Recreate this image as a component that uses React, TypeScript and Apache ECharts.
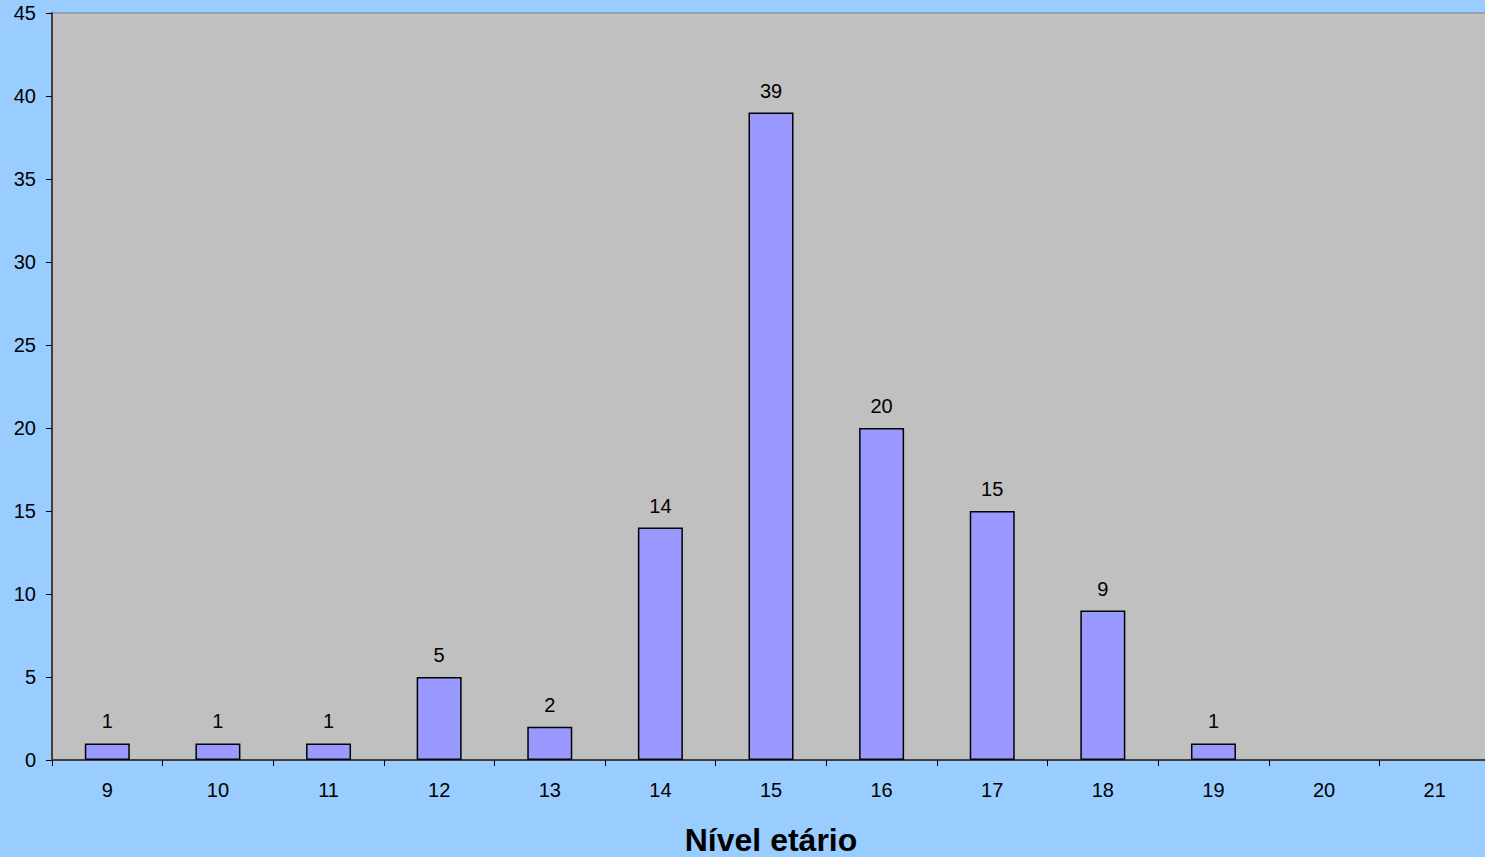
import React, { useEffect, useRef } from "react";
import * as echarts from "echarts";

const categories = ["9", "10", "11", "12", "13", "14", "15", "16", "17", "18", "19", "20", "21"];
const values: (number | null)[] = [1, 1, 1, 5, 2, 14, 39, 20, 15, 9, 1, null, null];
const xTitle = "Nível etário";

export default function App() {
  const ref = useRef<HTMLDivElement>(null);
  useEffect(() => {
    document.body.style.margin = "0";
    const chart = echarts.init(ref.current!, null, { renderer: "svg" });
    chart.setOption({
      animation: false,
      backgroundColor: "#99CCFF",
      textStyle: { fontFamily: "Liberation Sans, Arial, sans-serif" },
      grid: {
        left: 52,
        top: 13,
        width: 1438,
        bottom: 97,
        outerBoundsMode: "none",
        show: true,
        backgroundColor: "#C0C0C0",
        borderColor: "#808080",
        borderWidth: 1,
      },
      xAxis: {
        type: "category",
        data: categories,
        name: xTitle,
        nameLocation: "middle",
        nameGap: 64,
        nameTextStyle: { fontSize: 32, fontWeight: "bold", color: "#000" },
        axisLine: { lineStyle: { color: "#404040", width: 2 } },
        axisTick: { show: true, length: 6, lineStyle: { color: "#000" } },
        axisLabel: { fontSize: 20, color: "#000", margin: 20 },
      },
      yAxis: {
        type: "value",
        min: 0,
        max: 45,
        interval: 5,
        splitLine: { show: false },
        axisLine: { show: true, lineStyle: { color: "#404040", width: 2 } },
        axisTick: { show: true, length: 6, lineStyle: { color: "#000" } },
        axisLabel: { fontSize: 20, color: "#000", margin: 16 },
      },
      series: [
        {
          type: "bar",
          data: values,
          barWidth: 45,
          itemStyle: { color: "#9999FF", borderColor: "#000", borderWidth: 1.5 },
          label: {
            show: true,
            position: "top",
            distance: 12,
            fontSize: 20,
            color: "#000",
          },
        },
      ],
    });
    return () => chart.dispose();
  }, []);
  return (
    <div
      style={{
        position: "fixed",
        left: 0,
        top: 0,
        width: 1485,
        height: 857,
        overflow: "hidden",
        background: "#99CCFF",
      }}
    >
      <div ref={ref} style={{ width: 1500, height: 857 }} />
    </div>
  );
}
